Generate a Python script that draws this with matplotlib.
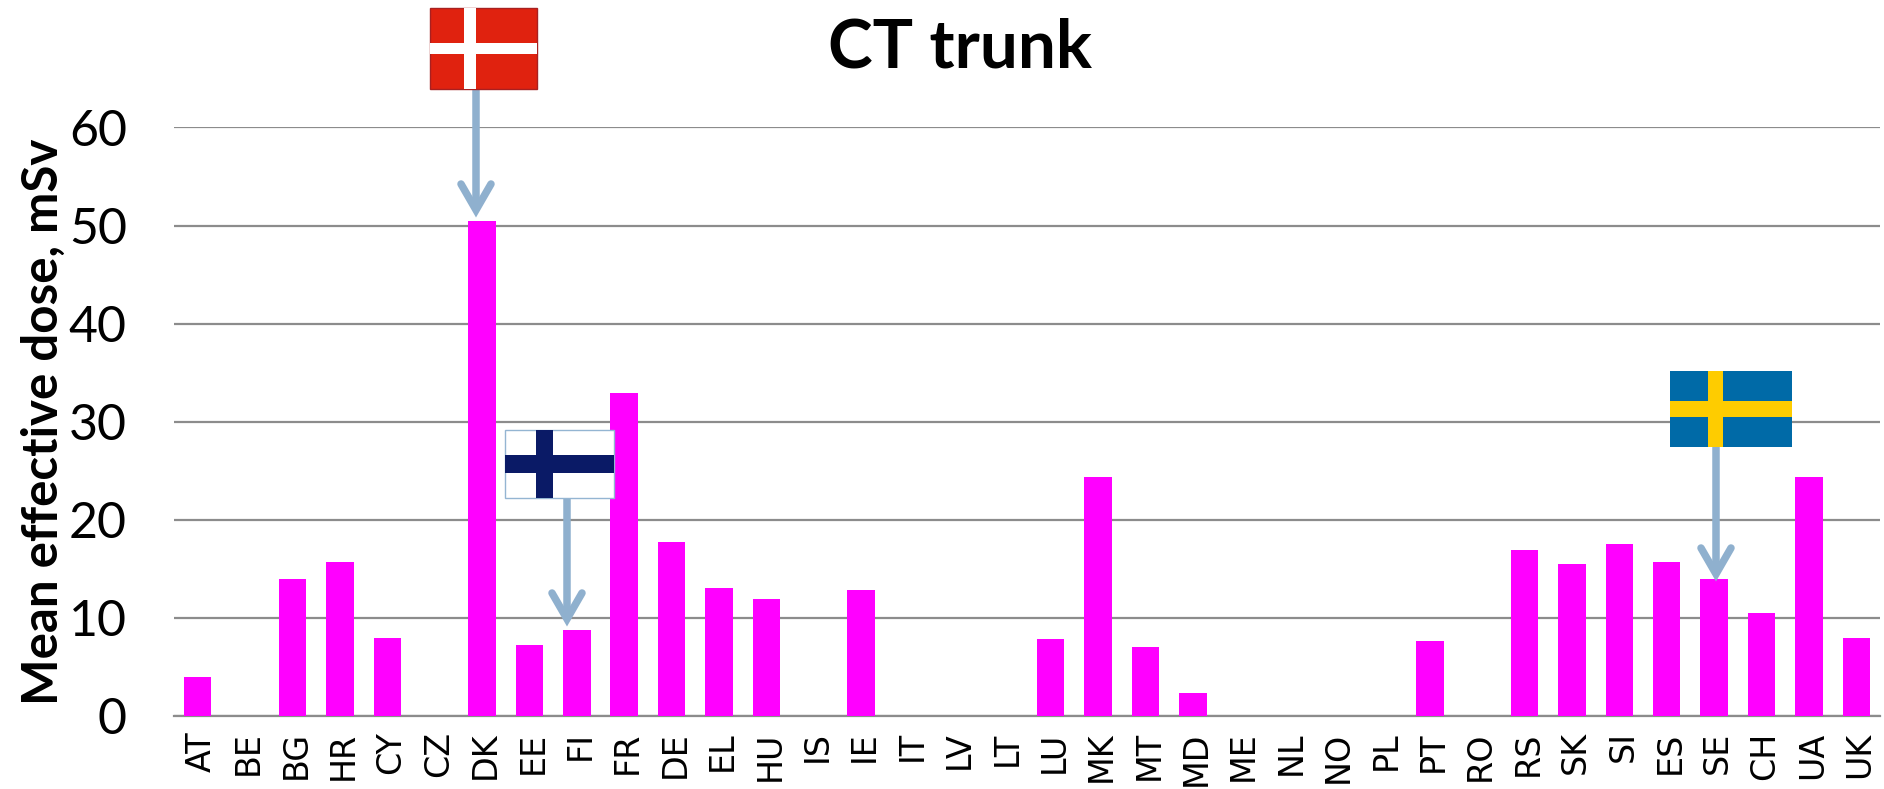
import matplotlib
matplotlib.use('Agg')
import matplotlib.pyplot as plt
from matplotlib.patches import Rectangle
from matplotlib.transforms import ScaledTranslation

plt.rcParams['font.family'] = ['Lato', 'DejaVu Sans']

# Data
countries = ['AT', 'BE', 'BG', 'HR', 'CY', 'CZ', 'DK', 'EE', 'FI', 'FR', 'DE', 'EL',
             'HU', 'IS', 'IE', 'IT', 'LV', 'LT', 'LU', 'MK', 'MT', 'MD', 'ME', 'NL',
             'NO', 'PL', 'PT', 'RO', 'RS', 'SK', 'SI', 'ES', 'SE', 'CH', 'UA', 'UK']
dose = [4, 0, 14, 15.7, 8, 0, 50.5, 7.2, 8.8, 32.9, 17.7, 13.0,
        11.9, 0, 12.8, 0, 0, 0, 7.9, 24.4, 7.0, 2.3, 0, 0,
        0, 0, 7.6, 0, 16.9, 15.5, 17.5, 15.7, 14, 10.5, 24.4, 8]
yticks = [0, 10, 20, 30, 40, 50, 60]

W, H = 1884, 789
fig = plt.figure(figsize=(W / 100, H / 100), dpi=100)
ax = fig.add_axes([174 / W, (H - 716) / H, 1706 / W, 588.6 / H])

ax.bar(range(len(countries)), dose, width=0.58, color='#FF00FF', zorder=3)
ax.set_xlim(-0.5, 35.5)
ax.set_ylim(0, 60)
ax.set_yticks(yticks)
ax.set_xticks(range(len(countries)))
ax.set_xticklabels(countries, rotation=90, fontsize=24, family='DejaVu Sans')
ax.tick_params(axis='y', labelsize=36, length=0, pad=34)
ax.tick_params(axis='x', length=0, pad=11)
shift = ScaledTranslation(3.5 / 100, 0, fig.dpi_scale_trans)
for lab in ax.get_xticklabels():
    lab.set_transform(lab.get_transform() + shift)
ax.grid(axis='y', color='#8C8C8C', linewidth=1.6, zorder=1)
for s in ['top', 'right', 'left']:
    ax.spines[s].set_visible(False)
ax.spines['bottom'].set_color('#8C8C8C')
ax.spines['bottom'].set_linewidth(1.6)
ax.set_ylabel('Mean effective dose, mSv', fontsize=35.5, fontweight='bold')
ax.yaxis.set_label_coords(-108 / 1706, 0.5)

# overlay in pixel coords for title, flags and arrows
ov = fig.add_axes([0, 0, 1, 1], zorder=5)
ov.set_xlim(0, W)
ov.set_ylim(H, 0)
ov.axis('off')
ov.text(960, 48, 'CT trunk', fontsize=48.5, fontweight='bold', ha='center', va='center')


def flag(x0, x1, y0, y1, vx0, vx1, hy0, hy1, bg, cross, edge='none'):
    ov.add_patch(Rectangle((x0, y0), x1 - x0, y1 - y0, facecolor=bg, edgecolor=edge, linewidth=1, zorder=3))
    ov.add_patch(Rectangle((vx0, y0), vx1 - vx0, y1 - y0, facecolor=cross, zorder=4))
    ov.add_patch(Rectangle((x0, hy0), x1 - x0, hy1 - hy0, facecolor=cross, zorder=4))


def arrow(x, y0, y1):
    col = '#8FB0CE'
    ov.plot([x, x], [y0, y1 - 10], color=col, lw=5.4, solid_capstyle='butt', zorder=2)
    ov.plot([x - 15, x, x + 15], [y1 - 34, y1 - 8, y1 - 34], color=col, lw=5.4,
            solid_capstyle='round', solid_joinstyle='miter', zorder=2)


arrow(476, 89, 218)
flag(430, 537, 8, 89, 464, 476, 43, 54, '#E0220F', 'white', edge='#A82020')
arrow(567, 498, 627)
flag(505, 614, 430, 498, 536, 553, 455, 473, 'white', '#0A1A66', edge='#94B5D2')
arrow(1716, 447, 582)
flag(1670, 1792, 371, 447, 1708, 1723, 401, 417, '#006AA7', '#FECC00')

fig.savefig('out.png', dpi=100)
